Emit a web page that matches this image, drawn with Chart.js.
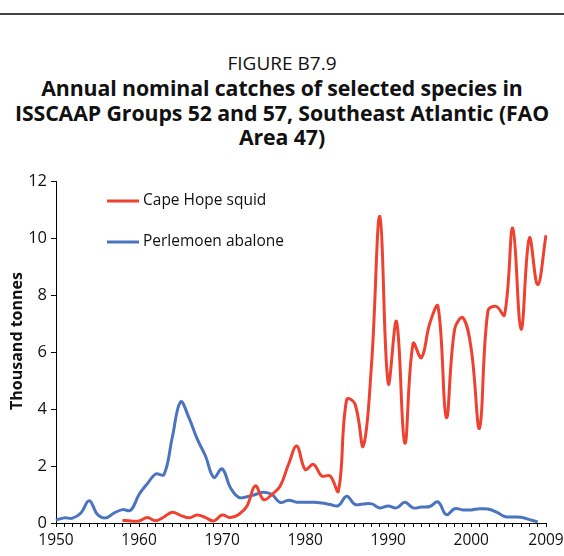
<!DOCTYPE html>
<html>
<head>
<meta charset="utf-8">
<script src="https://cdn.jsdelivr.net/npm/chart.js@4.4.1/dist/chart.umd.min.js"></script>
<style>
  html, body { margin: 0; padding: 0; background: #fff; }
  body { width: 564px; height: 556px; position: relative; overflow: hidden; font-family: "Open Sans", sans-serif; }
  #rule { position: absolute; left: 0; top: 13px; width: 564px; height: 2px; background: #444; }
  #head { position: absolute; left: 0; top: 51px; width: 564px; text-align: center; color: #111; }
  #head .fig { font-size: 19px; line-height: 25px; }
  #head .ttl { font-size: 21.3px; font-weight: bold; line-height: 24.5px; letter-spacing: -0.1px; }
  #wrap { position: absolute; left: 0; top: 0; width: 564px; height: 556px; }
</style>
</head>
<body>
<div id="rule"></div>
<div id="head">
  <div class="fig">FIGURE B7.9</div>
  <div class="ttl">Annual nominal catches of selected species in<br>ISSCAAP Groups 52 and 57, Southeast Atlantic (FAO<br>Area 47)</div>
</div>
<div id="wrap"><canvas id="chart" width="564" height="556"></canvas></div>
<script>
// years on the x axis
const years = [];
for (let y = 1950; y <= 2009; y++) years.push(String(y));

// Cape Hope squid, 1958-2009 (thousand tonnes)
const squid = [
  null, null, null, null, null, null, null, null,
  0.1, 0.07, 0.07, 0.19, 0.08, 0.21, 0.38, 0.27, 0.18, 0.28, 0.19, 0.07,
  0.28, 0.19, 0.3, 0.6, 1.3, 0.82, 1.0, 1.3, 2.06, 2.7,
  1.88, 2.06, 1.65, 1.65, 1.12, 4.33, 4.18, 2.7, 5.6, 10.76,
  4.9, 7.07, 2.8, 6.3, 5.8, 7.0, 7.6, 3.7, 6.8, 7.2,
  6.1, 3.33, 7.43, 7.6, 7.3, 10.35, 6.8, 10.0, 8.36, 10.1
];

// Perlemoen abalone, 1950-2008 (thousand tonnes)
const abalone = [
  0.1, 0.18, 0.17, 0.35, 0.78, 0.3, 0.18, 0.35, 0.47, 0.45,
  1.0, 1.38, 1.72, 1.7, 3.0, 4.25, 3.7, 2.95, 2.35, 1.6,
  1.9, 1.24, 0.9, 0.92, 1.0, 1.08, 1.0, 0.72, 0.8, 0.73,
  0.73, 0.73, 0.7, 0.65, 0.61, 0.94, 0.65, 0.67, 0.67, 0.53,
  0.6, 0.53, 0.73, 0.53, 0.56, 0.58, 0.74, 0.29, 0.5, 0.46,
  0.46, 0.5, 0.49, 0.39, 0.23, 0.21, 0.2, 0.12, 0.04, null
];

const seriesNames = ['Cape Hope squid', 'Perlemoen abalone'];
const seriesColors = ['#ef4130', '#4a74c0'];
const yTitle = 'Thousand tonnes';

// legend inside the plot (top-left) and the y axis title
const extras = {
  id: 'extras',
  afterDraw(chart) {
    const ctx = chart.ctx;
    ctx.save();
    ctx.font = '15.5px "Open Sans", sans-serif';
    ctx.textBaseline = 'middle';
    chart.data.datasets.forEach((ds, i) => {
      const y = 201 + i * 41;
      ctx.strokeStyle = ds.borderColor;
      ctx.lineWidth = 3;
      ctx.beginPath();
      ctx.moveTo(107, y);
      ctx.lineTo(139, y);
      ctx.stroke();
      ctx.fillStyle = '#111';
      ctx.fillText(ds.label, 143, y);
    });
    ctx.translate(17, 341);
    ctx.rotate(-Math.PI / 2);
    ctx.textAlign = 'center';
    ctx.font = 'bold 16px "Open Sans", sans-serif';
    ctx.fillText(yTitle, 0, 0);
    ctx.restore();
  }
};

new Chart(document.getElementById('chart'), {
  type: 'line',
  data: {
    labels: years,
    datasets: [
      { label: seriesNames[0], data: squid, borderColor: seriesColors[0], borderWidth: 3, pointRadius: 0, tension: 0.4 },
      { label: seriesNames[1], data: abalone, borderColor: seriesColors[1], borderWidth: 3, pointRadius: 0, tension: 0.4 }
    ]
  },
  options: {
    responsive: false,
    animation: false,
    layout: { padding: { top: 181, right: 18, left: 0, bottom: 0 } },
    plugins: { legend: { display: false }, tooltip: { enabled: false } },
    scales: {
      x: {
        type: 'category',
        offset: false,
        border: { color: '#000', width: 1 },
        grid: { drawOnChartArea: false, color: '#000', tickLength: 4 },
        ticks: {
          autoSkip: false,
          maxRotation: 0,
          color: '#111',
          font: { size: 15.5, family: '"Open Sans", sans-serif' },
          padding: 4,
          callback: function (v) {
            const yr = Number(this.getLabelForValue(v));
            return (yr % 10 === 0 || yr === 2009) ? String(yr) : '';
          }
        },
        afterFit(scale) {
          scale.height = 33;
          scale.paddingRight = 0;
          scale.paddingLeft = 0;
        }
      },
      y: {
        min: 0,
        max: 12,
        border: { color: '#000', width: 1 },
        grid: { drawOnChartArea: false, color: '#000', tickLength: 5 },
        ticks: { stepSize: 2, color: '#111', font: { size: 16.5, family: '"Open Sans", sans-serif' }, padding: 4 },
        afterFit(scale) { scale.width = 56; }
      }
    }
  },
  plugins: [extras]
});
</script>
</body>
</html>
